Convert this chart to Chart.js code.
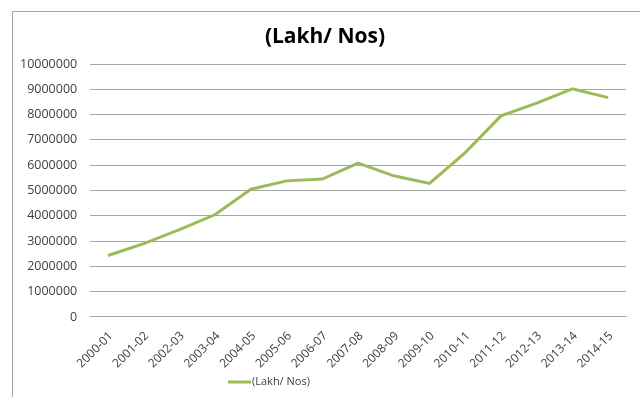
<!DOCTYPE html>
<html>
<head>
<meta charset="utf-8">
<script src="https://cdn.jsdelivr.net/npm/chart.js@4/dist/chart.umd.min.js"></script>
<style>
  html, body { margin: 0; padding: 0; background: #fff; }
  #wrap { position: relative; width: 640px; height: 397px; }
</style>
</head>
<body>
<div id="wrap"><canvas id="chart" width="640" height="397"></canvas></div>
<script>
const years = [
  "2000-01", "2001-02", "2002-03", "2003-04", "2004-05", "2005-06", "2006-07", "2007-08",
  "2008-09", "2009-10", "2010-11", "2011-12", "2012-13", "2013-14", "2014-15"
];
const seriesName = "(Lakh/ Nos)";
const production = [
  2430000, 2900000, 3450000, 4050000, 5050000, 5380000, 5450000, 6080000,
  5580000, 5280000, 6500000, 7950000, 8450000, 9020000, 8670000
];
const yMin = 0;
const yMax = 10000000;
const yStep = 1000000;

const lineColor = "#9bbb59";
const textColor = "#404040";
const gridColor = "#a6a6a6";

// outer frame of the chart object
const framePlugin = {
  id: "frame",
  beforeDraw(chart) {
    const ctx = chart.ctx;
    ctx.save();
    ctx.strokeStyle = "#a6a6a6";
    ctx.lineWidth = 1;
    ctx.strokeRect(12.5, 11.5, 700, 500);
    ctx.restore();
  }
};

// title above the plot and a line legend below the axis labels
const textPlugin = {
  id: "titleAndLegend",
  afterDraw(chart) {
    const ctx = chart.ctx;
    const ds = chart.data.datasets[0];
    ctx.save();
    ctx.fillStyle = "#000";
    ctx.font = "bold 21px 'Open Sans'";
    ctx.textAlign = "center";
    ctx.textBaseline = "middle";
    ctx.fillText(ds.label, 325, 37);

    const y = 382;
    ctx.strokeStyle = ds.borderColor;
    ctx.lineWidth = 3;
    ctx.beginPath();
    ctx.moveTo(228, y);
    ctx.lineTo(251, y);
    ctx.stroke();
    ctx.fillStyle = textColor;
    ctx.font = "11px 'Open Sans'";
    ctx.textAlign = "left";
    ctx.fillText(ds.label, 252, y);
    ctx.restore();
  }
};

new Chart(document.getElementById("chart"), {
  type: "line",
  data: {
    labels: years,
    datasets: [{
      label: seriesName,
      data: production,
      borderColor: lineColor,
      backgroundColor: lineColor,
      borderWidth: 3,
      pointRadius: 0,
      tension: 0,
      fill: false
    }]
  },
  options: {
    responsive: false,
    animation: false,
    layout: { padding: { left: 7, right: 14, top: 64, bottom: 14 } },
    plugins: {
      legend: { display: false },
      tooltip: { enabled: false },
      title: { display: false }
    },
    scales: {
      x: {
        offset: true,
        grid: { display: false, drawTicks: false },
        border: { display: true, color: gridColor },
        ticks: {
          color: textColor,
          font: { family: "'Open Sans'", size: 12 },
          minRotation: 45,
          maxRotation: 45,
          padding: 12,
          labelOffset: 3,
          autoSkip: false
        }
      },
      y: {
        min: yMin,
        max: yMax,
        grid: { color: gridColor, drawTicks: false },
        border: { display: false },
        ticks: {
          stepSize: yStep,
          color: textColor,
          font: { family: "'Open Sans'", size: 12.5 },
          padding: 13,
          callback: v => String(v)
        }
      }
    }
  },
  plugins: [framePlugin, textPlugin]
});
</script>
</body>
</html>
